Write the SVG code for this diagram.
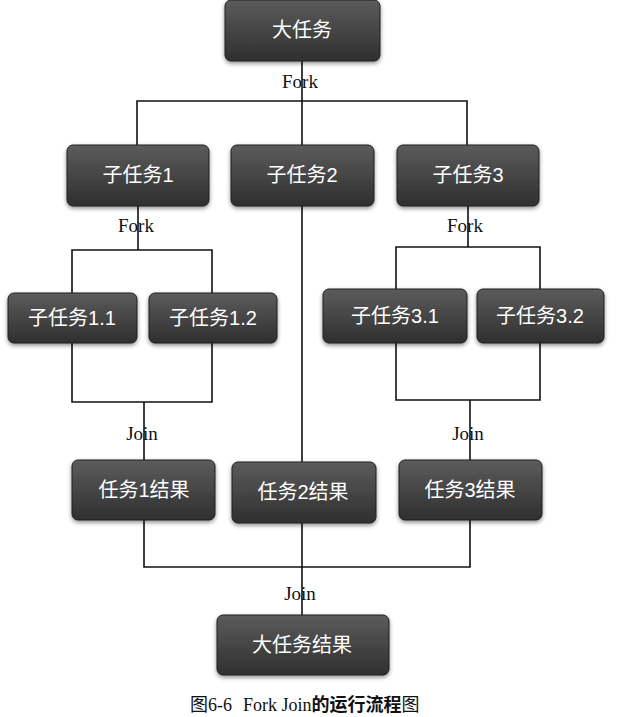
<svg xmlns="http://www.w3.org/2000/svg" width="620" height="717" viewBox="0 0 620 717">
<defs>
<linearGradient id="g" x1="0" y1="0" x2="0" y2="1">
<stop offset="0" stop-color="#5c5c5c"/>
<stop offset="1" stop-color="#2f2f2f"/>
</linearGradient>
<filter id="sh" x="-10%" y="-10%" width="120%" height="130%">
<feDropShadow dx="0" dy="2" stdDeviation="2" flood-color="#000" flood-opacity="0.45"/>
</filter>
</defs>
<style>
.box{fill:url(#g);stroke:#1e1e1e;stroke-width:1;filter:url(#sh)}
.bt{fill:#fff;font-family:"Liberation Sans","Noto Sans CJK SC",sans-serif;font-size:20px;text-anchor:middle}
.lab{fill:#111;font-family:"Liberation Serif",serif;font-size:19px;text-anchor:middle}
.ln{fill:none;stroke:#111;stroke-width:1.6}
.cap{font-family:"Liberation Serif","Noto Sans CJK SC",serif;font-size:18px;fill:#111}
</style>
<rect width="620" height="717" fill="#fff"/>
<g id="connectors">
<path class="ln" d="M302 61V145M137 145V101H467V145M302 145V462"/>
<path class="ln" d="M138 206V250M72 294V250H212V294"/>
<path class="ln" d="M72 343V402H212V343M144 402V460"/>
<path class="ln" d="M468 206V247M396 289V247H540V289"/>
<path class="ln" d="M396 343V400H540V343M470 400V460"/>
<path class="ln" d="M144 520V567H470V520M302 523V615"/>
</g>
<g id="labels">
<text class="lab" x="300" y="88">Fork</text>
<text class="lab" x="136" y="232">Fork</text>
<text class="lab" x="465" y="232">Fork</text>
<text class="lab" x="142" y="440">Join</text>
<text class="lab" x="468" y="440">Join</text>
<text class="lab" x="300" y="600">Join</text>
</g>
<g id="n0"><rect class="box" x="225" y="0" width="155" height="61" rx="6"/><text class="bt" x="302" y="37">大任务</text></g>
<g id="n1"><rect class="box" x="67" y="145" width="142" height="61" rx="6"/><text class="bt" x="138" y="182">子任务1</text></g>
<g id="n2"><rect class="box" x="231" y="145" width="143" height="61" rx="6"/><text class="bt" x="302" y="182">子任务2</text></g>
<g id="n3"><rect class="box" x="397" y="145" width="142" height="61" rx="6"/><text class="bt" x="468" y="182">子任务3</text></g>
<g id="n11"><rect class="box" x="8" y="293" width="129" height="50" rx="6"/><text class="bt" x="72" y="325">子任务1.1</text></g>
<g id="n12"><rect class="box" x="149" y="293" width="128" height="50" rx="6"/><text class="bt" x="213" y="325">子任务1.2</text></g>
<g id="n31"><rect class="box" x="323" y="289" width="144" height="54" rx="6"/><text class="bt" x="395" y="323">子任务3.1</text></g>
<g id="n32"><rect class="box" x="477" y="289" width="127" height="54" rx="6"/><text class="bt" x="540" y="323">子任务3.2</text></g>
<g id="r1"><rect class="box" x="72" y="460" width="143" height="60" rx="6"/><text class="bt" x="144" y="497">任务1结果</text></g>
<g id="r2"><rect class="box" x="232" y="462" width="144" height="61" rx="6"/><text class="bt" x="303" y="499">任务2结果</text></g>
<g id="r3"><rect class="box" x="399" y="460" width="143" height="60" rx="6"/><text class="bt" x="470" y="497">任务3结果</text></g>
<g id="rf"><rect class="box" x="217" y="615" width="172" height="60" rx="6"/><text class="bt" x="302" y="652">大任务结果</text></g>
<text class="cap" x="190" y="711">图6-6<tspan x="243">Fork Join</tspan><tspan font-weight="bold" font-family="Noto Sans CJK SC,sans-serif">的运行流程</tspan>图</text>
</svg>
